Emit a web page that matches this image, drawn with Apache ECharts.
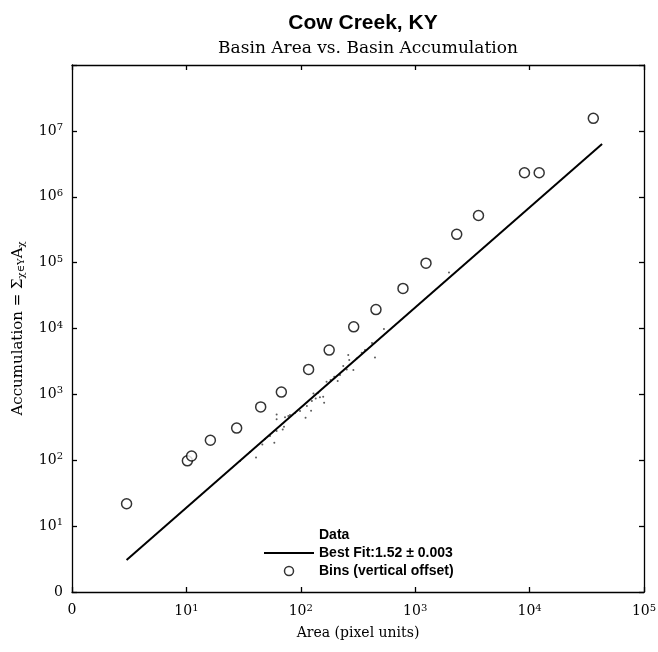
<!DOCTYPE html>
<html>
<head>
<meta charset="utf-8">
<script src="https://cdn.jsdelivr.net/npm/echarts@6/dist/echarts.min.js"></script>
<style>html,body{margin:0;padding:0;background:#fff;}#c{width:658px;height:652px;}</style>
</head>
<body>
<div id="c"></div>
<script>
// ---- data ----
const binArea  = [3.0, 10.2, 11.1, 16.2, 27.5, 44.6, 67.6, 117, 177, 290, 454, 782, 1243, 2306, 3574, 9020, 12130, 36050];
const binAccum = [21.9, 98, 116, 201, 308, 646, 1084, 2395, 4700, 10600, 19360, 40600, 98200, 268700, 520000, 2310000, 2310000, 15500000];

const fitArea  = [3.0, 43000];
const fitAccum = [3.06, 6300000];

const dataArea  = [29.4, 36, 40.6, 46.1, 48.6, 53.8, 58.7, 61.5, 61.5, 61.5, 69.5, 71.3, 72.8, 77.8, 80.5, 89, 98.4, 110, 113, 123, 125, 129, 135, 141, 147, 157, 160, 168, 182, 196, 210, 220, 235, 252, 260, 265, 288, 308, 341, 364, 419, 445, 533, 1974];
const dataAccum = [97, 133, 110, 174, 210, 233, 184, 277, 418, 497, 294, 322, 448, 469, 485, 520, 558, 442, 664, 564, 791, 1035, 869, 1047, 901, 920, 746, 1553, 1648, 1849, 1592, 1963, 2685, 2393, 3945, 3313, 2337, 3517, 4277, 4700, 6000, 3615, 9790, 71000];

const xTickLabels = ['0', '10{sup|1}', '10{sup|2}', '10{sup|3}', '10{sup|4}', '10{sup|5}'];
const yTickLabels = ['0', '10{sup|1}', '10{sup|2}', '10{sup|3}', '10{sup|4}', '10{sup|5}', '10{sup|6}', '10{sup|7}', ''];

const titleText = 'Cow Creek, KY';
const subtitleText = 'Basin Area vs. Basin Accumulation';
const xName = 'Area (pixel units)';
const yName = 'Accumulation = Σ{sub|χ∈Υ}A{sub|χ}';
const seriesNames = ['Data', 'Best Fit:1.52 ± 0.003', 'Bins (vertical offset)'];

// ---- chart ----
const serif = '"DejaVu Serif", "Liberation Serif", serif';
const sans = '"Liberation Sans", Arial, sans-serif';
const labelRich = {
  b: {fontFamily: serif, fontSize: 14, color: '#000'},
  sup: {fontFamily: serif, fontSize: 10, color: '#000', verticalAlign: 'top', padding: [0, 0, 7, 0]}
};
function expOf(v) { return Math.round(Math.log10(v)); }

const chart = echarts.init(document.getElementById('c'), null, {renderer: 'canvas'});
const axisLine = {show: true, lineStyle: {color: '#000', width: 1.3}};
const axisTick = {show: true, inside: true, length: 5, lineStyle: {color: '#000', width: 1.3}};

chart.setOption({
  animation: false,
  backgroundColor: '#fff',
  title: [
    {text: titleText, left: 358, top: 8, textAlign: 'center',
     textStyle: {fontFamily: sans, fontSize: 21, fontWeight: 'bold', color: '#000'}},
    {text: subtitleText, left: 363, top: 35, textAlign: 'center',
     textStyle: {fontFamily: serif, fontSize: 17, fontWeight: 'normal', color: '#000'}}
  ],
  grid: {left: 72, right: 14, top: 65, bottom: 60, containLabel: false, outerBoundsMode: 'none'},
  legend: {
    orient: 'vertical', left: 258, top: 523, itemWidth: 50, itemHeight: 9, itemGap: 4,
    textStyle: {fontFamily: sans, fontSize: 14, fontWeight: 'bold', color: '#000'},
    data: [
      {name: seriesNames[0], icon: 'circle', itemStyle: {opacity: 0}},
      {name: seriesNames[1], itemStyle: {opacity: 0}, lineStyle: {color: '#000', width: 2}},
      {name: seriesNames[2], icon: 'circle', itemStyle: {color: '#fff', borderColor: '#000', borderWidth: 1.5}}
    ]
  },
  xAxis: [
    {type: 'log', logBase: 10, min: 1, max: 100000, interval: 1, position: 'bottom', gridIndex: 0,
     name: xName, nameLocation: 'middle', nameGap: 34,
     nameTextStyle: {fontFamily: serif, fontSize: 14, color: '#000'},
     axisLine: axisLine, axisTick: axisTick, splitLine: {show: false}, minorTick: {show: false},
     axisLabel: {margin: 11, formatter: v => xTickLabels[expOf(v)], rich: labelRich,
                 fontFamily: serif, fontSize: 14, color: '#000'}},
    {type: 'log', logBase: 10, min: 1, max: 100000, interval: 1, position: 'top', gridIndex: 0,
     axisLine: axisLine, axisTick: axisTick, axisLabel: {show: false}, splitLine: {show: false}}
  ],
  yAxis: [
    {type: 'log', logBase: 10, min: 1, max: 100000000, interval: 1, position: 'left', gridIndex: 0,
     name: yName, nameLocation: 'middle', nameGap: 46,
     nameTextStyle: {fontFamily: serif, fontSize: 15, color: '#000',
       rich: {sub: {fontFamily: serif, fontSize: 10, color: '#000', verticalAlign: 'bottom', padding: [6, 0, 0, 0]}}},
     axisLine: axisLine, axisTick: axisTick, splitLine: {show: false},
     axisLabel: {margin: 9, formatter: v => yTickLabels[expOf(v)], rich: labelRich,
                 fontFamily: serif, fontSize: 14, color: '#000'}},
    {type: 'log', logBase: 10, min: 1, max: 100000000, interval: 1, position: 'right', gridIndex: 0,
     axisLine: axisLine, axisTick: axisTick, axisLabel: {show: false}, splitLine: {show: false}}
  ],
  series: [
    {name: seriesNames[0], type: 'scatter', xAxisIndex: 0, yAxisIndex: 0, symbol: 'circle', symbolSize: 2,
     itemStyle: {color: '#333'}, data: dataArea.map((x, i) => [x, dataAccum[i]])},
    {name: seriesNames[1], type: 'line', xAxisIndex: 0, yAxisIndex: 0, symbol: 'none', showSymbol: false,
     lineStyle: {color: '#000', width: 2}, itemStyle: {color: '#000'},
     data: fitArea.map((x, i) => [x, fitAccum[i]])},
    {name: seriesNames[2], type: 'scatter', xAxisIndex: 0, yAxisIndex: 0, symbol: 'circle', symbolSize: 10,
     itemStyle: {color: '#fff', borderColor: '#000', borderWidth: 1.5},
     data: binArea.map((x, i) => [x, binAccum[i]])}
  ]
});
</script>
</body>
</html>
